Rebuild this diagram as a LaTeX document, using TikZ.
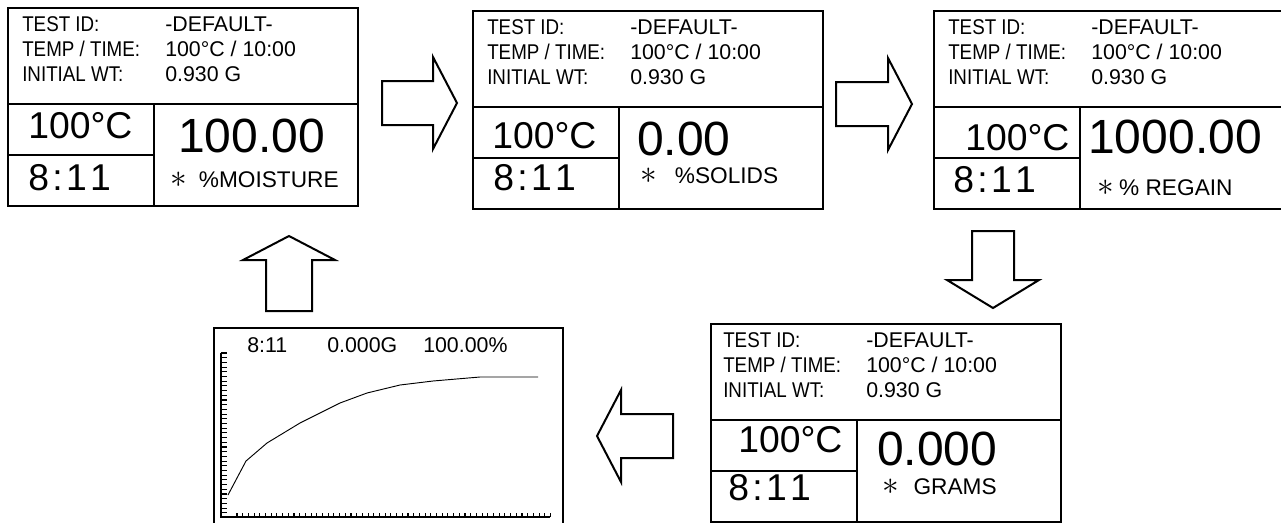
\documentclass[tikz,border=0pt]{standalone}
\usepackage{fontspec}
\setmainfont{Liberation Sans}
\newfontfamily\condfont[FakeStretch=0.88]{Liberation Sans}
\usetikzlibrary{positioning}

\newcommand\infolines{%
  \begin{tabular}[t]{@{}p{107.25pt}@{}l@{}}
    {\condfont TEST ID:} & -DEFAULT-\\
    {\condfont TEMP / TIME:} & 100°C / 10:00\\
    {\condfont INITIAL WT:} & 0.930 G
  \end{tabular}}
\newcommand\clocktext{8\kern2.5pt:\kern2.5pt1\kern2.5pt1}
\newcommand\unitstar{\smash{\fontsize{25}{25}\selectfont$\ast$}}

\begin{document}
\begin{tikzpicture}[x=0.75pt,y=-0.75pt,
    box/.style={draw,line width=1.5pt,inner sep=0pt,anchor=north west},
    headbox/.style={box,minimum width=262.5pt,minimum height=72pt},
    smallbox/.style={box,minimum width=109.5pt,minimum height=38.25pt},
    valuebox/.style={box,minimum width=153pt,minimum height=76.5pt},
    info/.style={anchor=base west,inner sep=0pt,font=\fontsize{16}{19.1}\selectfont},
    temp/.style={anchor=base west,inner sep=0pt,font=\fontsize{28}{32}\selectfont},
    big/.style={anchor=base west,inner sep=0pt,font=\fontsize{36}{40}\selectfont},
    unit/.style={anchor=base west,inner sep=0pt,font=\fontsize{17}{20}\selectfont},
    blockarrow/.style={draw,line width=1.5pt,line join=miter},
    tick/.style={line width=0.8pt},
    curve/.style={line width=0.7pt}]
    \useasboundingbox (0,0) rectangle (1281,522);
    \clip (0,0) rectangle (1281,522);

    % moisture screen
    \node[headbox] (p1head) at (7,7) {};
    \node[smallbox] (p1temp) at (7,103) {};
    \node[smallbox] (p1clock) at (7,154) {};
    \node[valuebox] (p1value) at (153,103) {};
    \node[info] (p1info) at (22,31) {\infolines};
    \node[temp] (p1t) at (28,138) {100°C};
    \node[temp] (p1c) at (28,190) {\clocktext};
    \node[big] (p1v) at (178,152) {100.00};
    \node[unit] (p1u) at (170,187) {\unitstar\hspace{9pt}\%MOISTURE};

    % solids screen
    \node[headbox] (p2head) at (472,10) {};
    \node[smallbox] (p2temp) at (472,106) {};
    \node[smallbox] (p2clock) at (472,157) {};
    \node[valuebox] (p2value) at (618,106) {};
    \node[info] (p2info) at (487,34) {\infolines};
    \node[temp] (p2t) at (492,148) {100°C};
    \node[temp] (p2c) at (493,190) {\clocktext};
    \node[big] (p2v) at (637,155) {0.00};
    \node[unit] (p2u) at (640,183) {\unitstar\hspace{13.5pt}\%SOLIDS};

    % regain screen
    \node[headbox] (p3head) at (933,10) {};
    \node[smallbox] (p3temp) at (933,106) {};
    \node[smallbox] (p3clock) at (933,157) {};
    \node[valuebox] (p3value) at (1079,106) {};
    \node[info] (p3info) at (948,34) {\infolines};
    \node[temp] (p3t) at (965,150) {100°C};
    \node[temp] (p3c) at (953,192) {\clocktext};
    \node[big] (p3v) at (1088,153) {1000.00};
    \node[unit] (p3u) at (1097,195) {\unitstar\hspace{4pt}\% REGAIN};

    % grams screen
    \node[headbox] (p4head) at (710,323) {};
    \node[smallbox] (p4temp) at (710,419) {};
    \node[smallbox] (p4clock) at (710,470) {};
    \node[valuebox] (p4value) at (856,419) {};
    \node[info] (p4info) at (723,347) {\infolines};
    \node[temp] (p4t) at (738,452) {100°C};
    \node[temp] (p4c) at (728,500) {\clocktext};
    \node[big] (p4v) at (877,465) {0.000};
    \node[unit] (p4u) at (882,494) {\unitstar\hspace{11pt}GRAMS};

    % graph screen
    \node[box,minimum width=261.75pt,minimum height=150pt] (graph) at (213,327) {};
    \node[info] (gtime) at (247,352) {8:11};
    \node[info] (gweight) at (327,352) {0.000G};
    \node[info] (gpercent) at (423,352) {100.00\%};
    \draw[tick] (221,353) -- (221,517) -- (550,517);
    \foreach \k in {0,...,34}
        \draw[tick] (221,{353+\k*4.7}) -- ++(6,0);
    \foreach \k in {0,...,55}
        \draw[tick] ({237+\k*5.7},517) -- ++(0,-4);
    \draw[curve] (228,495) -- (246,461) -- (267,443) -- (300,423) -- (340,403)
        -- (367,393) -- (400,385) -- (433,381) -- (480,377) -- (538,377);

    % block arrows
    \draw[blockarrow] (382,81) -- (433,81) -- (433,57) -- (457,103) -- (433,149) -- (433,125) -- (382,125) -- cycle;
    \draw[blockarrow] (836,82) -- (888,82) -- (888,58) -- (912,104) -- (888,150) -- (888,126) -- (836,126) -- cycle;
    \draw[blockarrow] (972,231) -- (972,280) -- (947,280) -- (993,308) -- (1039,280) -- (1014,280) -- (1014,231) -- cycle;
    \draw[blockarrow] (673,414) -- (621,414) -- (621,390) -- (597,436) -- (621,482) -- (621,458) -- (673,458) -- cycle;
    \draw[blockarrow] (266,311) -- (266,260) -- (243,260) -- (289,236) -- (335,260) -- (312,260) -- (312,311) -- cycle;
\end{tikzpicture}
\end{document}
